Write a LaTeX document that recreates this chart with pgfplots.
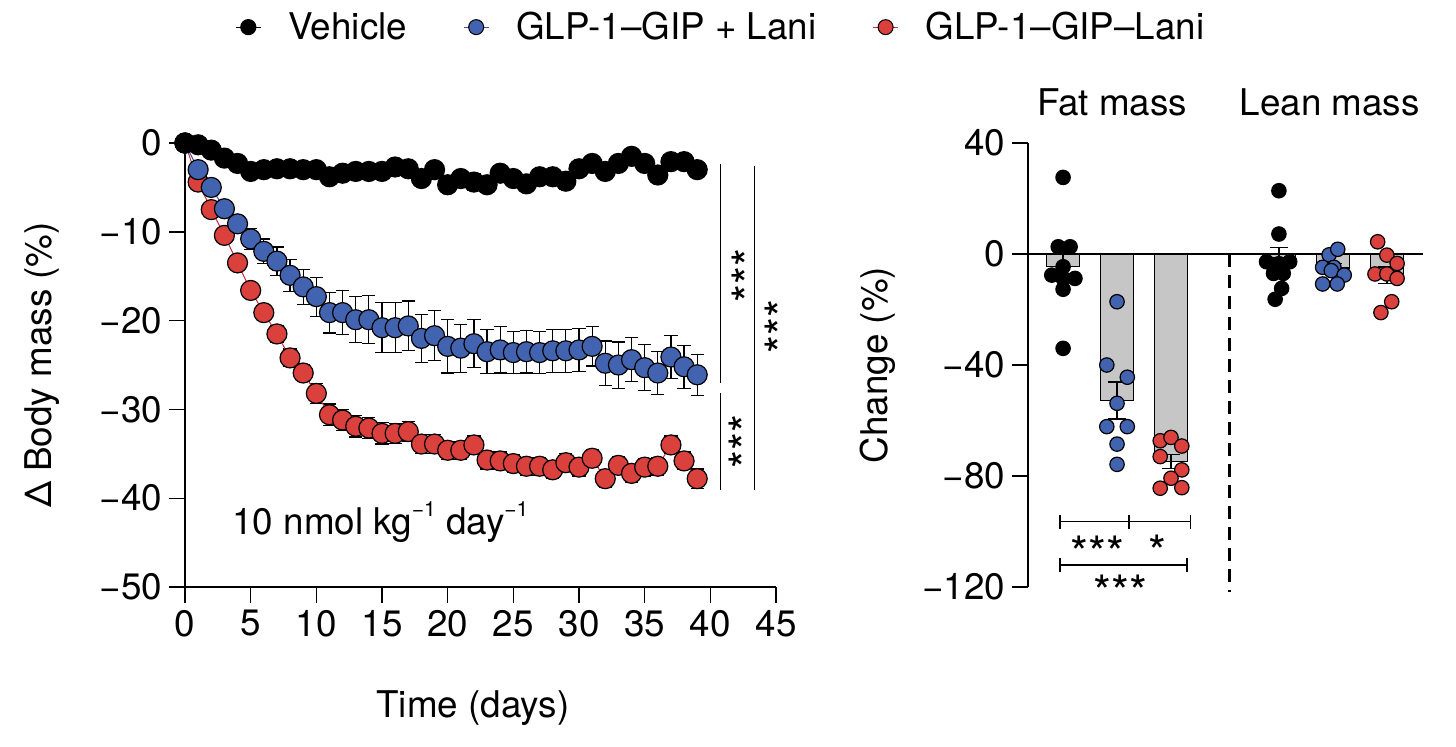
\documentclass[border=0pt]{standalone}
\usepackage{fontspec}
\setmainfont{TeX Gyre Heros}
\usepackage{pgfplots}
\pgfplotsset{compat=1.18}
\usepackage{pgfplotstable}
\definecolor{blueC}{RGB}{66,100,176}
\definecolor{redC}{RGB}{218,64,60}
\definecolor{barG}{RGB}{198,198,198}
\definecolor{redL}{RGB}{200,40,60}
\definecolor{blueL}{RGB}{60,80,170}

\pgfplotstableread{
d y e
0 0 0
1 -0.2 0.5
2 -0.8 0.6
3 -1.7 0.6
4 -2.3 0.6
5 -3.2 0.7
6 -3.0 0.7
7 -2.9 0.7
8 -2.9 0.7
9 -3.0 0.7
10 -3.0 0.7
11 -3.8 0.7
12 -3.4 0.7
13 -3.2 0.7
14 -3.2 0.7
15 -3.2 0.7
16 -2.7 0.7
17 -2.9 0.7
18 -4.0 0.8
19 -3.0 0.8
20 -4.7 0.8
21 -4.0 0.8
22 -4.4 0.9
23 -4.7 0.9
24 -3.4 0.8
25 -4.0 0.8
26 -4.6 0.8
27 -3.8 0.8
28 -3.8 0.8
29 -4.3 0.9
30 -2.9 0.8
31 -2.3 0.8
32 -3.2 0.8
33 -2.3 0.8
34 -1.5 0.8
35 -2.3 0.8
36 -3.6 0.8
37 -2.1 0.8
38 -2.1 0.8
39 -3.0 0.8
}\vehicle

\pgfplotstableread{
d y e
0 0 0
1 -3.0 0.3
2 -5.0 0.5
3 -7.4 0.7
4 -9.1 0.9
5 -10.8 1.2
6 -12.2 1.4
7 -13.3 1.6
8 -14.9 1.8
9 -16.2 2.0
10 -17.3 2.2
11 -19.1 2.3
12 -19.1 2.5
13 -19.9 2.6
14 -19.9 2.7
15 -20.8 2.8
16 -20.8 2.8
17 -20.6 2.8
18 -22.0 2.7
19 -21.7 2.8
20 -22.9 3.0
21 -23.1 2.7
22 -22.6 2.7
23 -23.5 2.5
24 -23.3 2.6
25 -23.6 2.4
26 -23.5 2.4
27 -23.6 2.4
28 -23.4 2.4
29 -23.4 2.4
30 -23.3 2.4
31 -22.9 2.2
32 -24.8 2.5
33 -25.0 2.6
34 -24.4 2.5
35 -25.3 2.6
36 -25.9 2.4
37 -24.1 2.4
38 -25.2 2.4
39 -26.1 2.3
}\combo

\pgfplotstableread{
d y e
0 0 0
1 -4.4 0.3
2 -7.5 0.4
3 -10.4 0.5
4 -13.5 0.6
5 -16.6 0.7
6 -19.1 0.8
7 -21.5 0.9
8 -24.2 1.0
9 -25.9 1.0
10 -28.2 1.1
11 -30.6 1.2
12 -31.2 1.2
13 -31.9 1.2
14 -32.1 1.2
15 -32.7 1.2
16 -32.7 1.1
17 -32.5 1.1
18 -33.9 1.1
19 -33.9 1.1
20 -34.6 1.0
21 -34.6 1.0
22 -34.0 1.0
23 -35.7 1.0
24 -35.8 1.0
25 -36.1 1.0
26 -36.4 1.0
27 -36.4 1.0
28 -36.8 1.0
29 -36.0 1.0
30 -36.5 1.0
31 -35.5 1.0
32 -37.8 1.0
33 -36.3 1.0
34 -37.2 1.0
35 -36.5 1.0
36 -36.4 1.0
37 -34.0 1.0
38 -35.8 1.0
39 -37.8 1.1
}\conj

\begin{document}
\begin{tikzpicture}[font=\fontsize{18.4}{22}\selectfont,
  stars/.style={inner sep=0pt, font=\fontsize{23}{23}\selectfont}]
\path[use as bounding box] (0,0) rectangle (728pt,373pt);
\begin{axis}[
  at={(92.5pt,79.5pt)}, anchor=south west, scale only axis,
  width=295.5pt, height=222pt,
  xmin=0, xmax=45, ymin=-50, ymax=0,
  axis x line*=bottom, axis y line*=left,
  axis line style={line width=0.7pt, black},
  tick align=outside, major tick length=8pt,
  tick style={line width=0.7pt, black},
  xtick={0,5,...,45}, xticklabels={0,5,10,15,20,25,30,35,40,45},
  ytick={-50,-40,...,0}, yticklabels={−50,−40,−30,−20,−10,0},
  clip=false,
  xlabel={Time (days)}, ylabel={Δ Body mass (\%)},
  xlabel style={at={(axis description cs:0.487,-0.2725)}, anchor=center},
  ylabel style={at={(axis description cs:-0.242,0.5)}, anchor=center},
  legend columns=3,
  legend style={draw=none, fill=none, at={(0.905,1.261)}, anchor=center,
    nodes={inner sep=0pt},
    /tikz/every odd column/.append style={column sep=13.5pt},
    /tikz/every even column/.append style={column sep=28pt}},
  legend image code/.code={\draw[mark repeat=2, mark phase=2, mark size=3.75pt, #1] plot coordinates {(0pt,0pt) (6.25pt,0pt) (12.5pt,0pt)};},
]
\addlegendimage{black, line width=0.6pt, mark=*, mark options={fill=black, draw=black}}
\addlegendentry{Vehicle}
\addlegendimage{blueL, line width=0.6pt, mark=*, mark options={fill=blueC, draw=black, line width=0.5pt}}
\addlegendentry{GLP-1–GIP + Lani}
\addlegendimage{redL, line width=0.6pt, mark=*, mark options={fill=redC, draw=black, line width=0.5pt}}
\addlegendentry{GLP-1–GIP–Lani}

% red series
\addplot[black, only marks, mark=none, forget plot,
  error bars/.cd, y dir=both, y explicit,
  error bar style={line width=0.6pt, black},
  error mark options={rotate=90, mark size=3.3pt, line width=0.6pt, black}]
  table[x=d, y=y, y error=e] {\conj};
\addplot[redL, line width=0.5pt, mark=*, mark size=5pt,
  mark options={fill=redC, draw=black, line width=0.6pt}, forget plot]
  table[x=d, y=y] {\conj};
% blue series
\addplot[black, only marks, mark=none, forget plot,
  error bars/.cd, y dir=both, y explicit,
  error bar style={line width=0.6pt, black},
  error mark options={rotate=90, mark size=3.3pt, line width=0.6pt, black}]
  table[x=d, y=y, y error=e] {\combo};
\addplot[blueL, line width=0.5pt, mark=*, mark size=5pt,
  mark options={fill=blueC, draw=black, line width=0.6pt}, forget plot]
  table[x=d, y=y] {\combo};
% vehicle
\addplot[black, only marks, mark=none, forget plot,
  error bars/.cd, y dir=both, y explicit,
  error bar style={line width=0.6pt, black},
  error mark options={rotate=90, mark size=3.3pt, line width=0.6pt, black}]
  table[x=d, y=y, y error=e] {\vehicle};
\addplot[black, line width=0.5pt, mark=*, mark size=5pt,
  mark options={fill=black, draw=black, line width=0.6pt}, forget plot]
  table[x=d, y=y] {\vehicle};

\draw[line width=0.6pt] (axis cs:40.8,-2.4) -- (axis cs:40.8,-27.0);
\draw[line width=0.6pt] (axis cs:40.8,-28.2) -- (axis cs:40.8,-39.1);
\draw[line width=0.6pt] (axis cs:43.34,-2.6) -- (axis cs:43.34,-39.1);
\node[stars, rotate=90] at (axis cs:42.9,-14.9) {***};
\node[stars, rotate=90] at (axis cs:42.7,-33.6) {***};
\node[stars, rotate=90] at (axis cs:45.45,-20.7) {***};
\node[anchor=base west, inner sep=0pt] at (axis cs:3.58,-44.1) {10 nmol kg\raisebox{9pt}{\fontsize{10.5}{10.5}\selectfont −1} day\raisebox{9pt}{\fontsize{10.5}{10.5}\selectfont −1}};
\end{axis}

\begin{axis}[
  at={(514pt,79.5pt)}, anchor=south west, scale only axis,
  width=197.5pt, height=222pt,
  xmin=-0.65, xmax=6.67, ymin=-120, ymax=40,
  axis x line=none, axis y line*=left,
  axis line style={line width=0.7pt, black},
  tick align=outside, major tick length=8pt,
  tick style={line width=0.7pt, black},
  ytick={-120,-80,-40,0,40}, yticklabels={−120,−80,−40,0,40},
  clip=false,
  ylabel={Change (\%)},
  ylabel style={at={(axis description cs:-0.38,0.5)}, anchor=center},
]
\draw[line width=0.7pt] (axis cs:-0.65,0) -- (axis cs:6.67,0);
\addplot[ybar, bar width=16.5pt, fill=barG, draw=black, line width=0.75pt,
  error bars/.cd, y dir=both, y explicit,
  error bar style={line width=0.75pt, black},
  error mark options={rotate=90, mark size=4.5pt, line width=0.75pt, black}]
  coordinates {(0,-4.5) +- (0,5) (1,-52.8) +- (0,6.6) (2,-74.8) +- (0,2.5)
               (4,-1.5) +- (0,3.8) (5,-5.0) +- (0,1.6) (6,-7.6) +- (0,3.0)};
\addplot[only marks, mark=*, mark size=3.6pt, mark options={fill=black, draw=black, line width=0.6pt}]
  coordinates {(0,27.6) (-0.09,2.6) (0.13,2.6) (0,-4.6) (-0.21,-7.6) (0.22,-8.8) (0,-8.8) (0,-12.7) (0,-34)
               (4,22.8) (4,7.2) (3.77,-2.8) (4.2,-2.8) (4,-3.5) (3.9,-7) (4.08,-7) (4.05,-12.4) (3.93,-16.3)};
\addplot[only marks, mark=*, mark size=3.6pt, mark options={fill=blueC, draw=black, line width=0.6pt}]
  coordinates {(1,-17.2) (0.81,-40) (1.19,-44.4) (1,-53.8) (0.81,-62.2) (1.19,-62.2) (1,-68.5) (1,-75.8)
               (4.93,-0.3) (5.09,1.7) (4.81,-4.8) (5.02,-4.8) (4.97,-6.0) (5.21,-7.6) (4.81,-10.8) (5.08,-10.8)};
\addplot[only marks, mark=*, mark size=3.6pt, mark options={fill=redC, draw=black, line width=0.6pt}]
  coordinates {(1.8,-67.3) (2,-66.1) (2.2,-69.2) (1.8,-73) (2.2,-77.8) (2,-80.8) (1.8,-84.4) (2.2,-84.2)
               (5.83,4.4) (6,-0.4) (6.19,-3.4) (5.78,-7.2) (6,-7.2) (6.19,-8.8) (6.09,-17.2) (5.89,-21.1)};
\draw[line width=1.5pt, dash pattern=on 6.5pt off 4pt] (axis cs:3.09,0) -- (axis cs:3.09,-121.7);
\draw[line width=0.7pt] (axis cs:-0.055,-94) -- (axis cs:-0.055,-99);
\draw[line width=0.7pt] (axis cs:1.22,-94) -- (axis cs:1.22,-99);
\draw[line width=0.7pt] (axis cs:2.36,-94) -- (axis cs:2.36,-99);
\draw[line width=0.7pt] (axis cs:-0.055,-96.5) -- (axis cs:2.36,-96.5);
\draw[line width=0.7pt] (axis cs:-0.055,-109.6) -- (axis cs:-0.055,-114.6);
\draw[line width=0.7pt] (axis cs:2.3,-109.6) -- (axis cs:2.3,-114.6);
\draw[line width=0.7pt] (axis cs:-0.055,-112.1) -- (axis cs:2.3,-112.1);
\node[stars] at (axis cs:0.64,-107.7) {***};
\node[stars] at (axis cs:1.75,-107.3) {*};
\node[stars] at (axis cs:1.07,-121.7) {***};
\node[anchor=base] at (axis cs:0.91,50) {Fat mass};
\node[anchor=base] at (axis cs:4.94,50) {Lean mass};
\end{axis}
\end{tikzpicture}
\end{document}
